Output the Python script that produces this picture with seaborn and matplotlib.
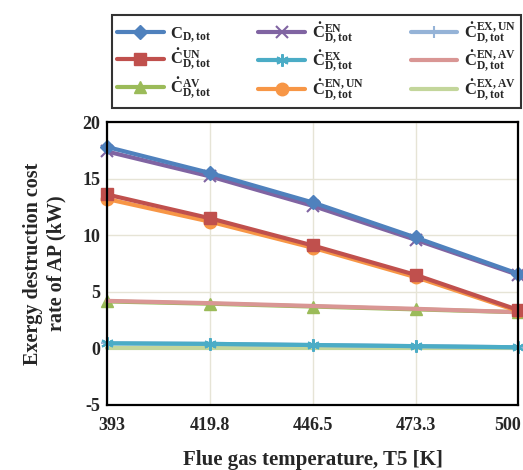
import matplotlib
matplotlib.use("Agg")
import matplotlib.pyplot as plt
import matplotlib.transforms as mtrans
import seaborn as sns
import pandas as pd

sns.set_theme(style="white")
plt.rcParams['font.family'] = ['Liberation Serif', 'DejaVu Serif']
plt.rcParams['mathtext.fontset'] = 'custom'
plt.rcParams['mathtext.rm'] = 'Liberation Serif:bold'
plt.rcParams['mathtext.it'] = 'Liberation Serif:bold'
plt.rcParams['mathtext.bf'] = 'Liberation Serif:bold'
plt.rcParams['axes.unicode_minus'] = False

temps = [393, 419.8, 446.5, 473.3, 500]
tick_labels = ["393", "419.8", "446.5", "473.3", "500"]

c_tot   = [17.8, 15.5, 12.9, 9.8, 6.6]
c_en    = [17.4, 15.2, 12.6, 9.6, 6.5]
c_ex_un = [0.45, 0.40, 0.30, 0.20, 0.10]
c_un    = [13.6, 11.5, 9.1, 6.5, 3.4]
c_ex    = [0.45, 0.40, 0.30, 0.20, 0.10]
c_en_av = [4.2, 4.0, 3.75, 3.5, 3.2]
c_av    = [4.15, 3.95, 3.7, 3.45, 3.2]
c_en_un = [13.2, 11.2, 8.9, 6.3, 3.3]
c_ex_av = [0.05, 0.05, 0.05, 0.05, 0.05]

series = [
    ("tot",   r"$\mathbf{C}_{\mathbf{D,tot}}$", c_tot, "#4F81BD", "D", 7),
    ("en",    r"$\dot{\mathbf{C}}^{\mathbf{EN}}_{\mathbf{D,tot}}$", c_en, "#8064A2", "x", 8),
    ("exun",  r"$\dot{\mathbf{C}}^{\mathbf{EX,UN}}_{\mathbf{D,tot}}$", c_ex_un, "#95B3D7", "+", 9),
    ("un",    r"$\dot{\mathbf{C}}^{\mathbf{UN}}_{\mathbf{D,tot}}$", c_un, "#C0504D", "s", 8),
    ("ex",    r"$\dot{\mathbf{C}}^{\mathbf{EX}}_{\mathbf{D,tot}}$", c_ex, "#4BACC6", (6, 2, 0), 9),
    ("enav",  r"$\dot{\mathbf{C}}^{\mathbf{EN,AV}}_{\mathbf{D,tot}}$", c_en_av, "#D99694", None, 0),
    ("av",    r"$\dot{\mathbf{C}}^{\mathbf{AV}}_{\mathbf{D,tot}}$", c_av, "#9BBB59", "^", 8),
    ("enun",  r"$\dot{\mathbf{C}}^{\mathbf{EN,UN}}_{\mathbf{D,tot}}$", c_en_un, "#F79646", "o", 9),
    ("exav",  r"$\dot{\mathbf{C}}^{\mathbf{EX,AV}}_{\mathbf{D,tot}}$", c_ex_av, "#C3D69B", None, 0),
]

fig = plt.figure(figsize=(5.23, 4.70), dpi=100)
ax = fig.add_axes([0.2046, 0.1383, 0.786, 0.602])

draw_order = ["exav", "exun", "ex", "av", "enav", "enun", "un", "en", "tot"]
handles = {}
for key in draw_order:
    k, lab, vals, col, mk, ms = [s for s in series if s[0] == key][0]
    df = pd.DataFrame({"T": temps, "v": vals})
    kw = dict(marker=mk, markersize=ms, markeredgecolor=col, markerfacecolor=col,
              markeredgewidth=1.5 if mk in ("x", "+", (6, 2, 0)) else 1) if mk is not None else {}
    sns.lineplot(data=df, x="T", y="v", ax=ax, color=col, linewidth=3, label=lab,
                 clip_on=False, **kw)
    handles[key] = ax.get_lines()[-1]

ax.legend().remove()
leg_order = ["tot", "un", "av", "en", "ex", "enun", "exun", "enav", "exav"]
labels_map = {s[0]: s[1] for s in series}
leg = fig.legend([handles[k] for k in leg_order], [labels_map[k] for k in leg_order],
                 ncol=3, loc="upper left", bbox_to_anchor=(0.214, 0.772, 0.782, 0.196),
                 mode="expand", fontsize=12, frameon=True, fancybox=False,
                 handlelength=2.8, borderaxespad=0, labelspacing=0.18, columnspacing=1.0,
                 borderpad=0.3, handletextpad=0.4)
leg.get_frame().set_edgecolor("black")
leg.get_frame().set_linewidth(1.5)

ax.set_xlim(393, 500)
ax.set_ylim(-5, 20)
ax.set_xticks(temps)
ax.set_xticklabels(tick_labels)
ax.set_yticks([-5, 0, 5, 10, 15, 20])
ax.grid(True, color="#E6E4D6", linewidth=1)
ax.set_axisbelow(True)
for sp in ax.spines.values():
    sp.set_visible(True)
    sp.set_color("black")
    sp.set_linewidth(1.6)
ax.tick_params(axis="x", length=0, labelsize=13, pad=9)
ax.tick_params(axis="y", length=0, labelsize=13, pad=5)
for t in ax.get_xticklabels() + ax.get_yticklabels():
    t.set_fontweight("bold")
xl = ax.get_xticklabels()
xl[0].set_transform(xl[0].get_transform() + mtrans.ScaledTranslation(5 / 100, 0, fig.dpi_scale_trans))
xl[-1].set_transform(xl[-1].get_transform() + mtrans.ScaledTranslation(-11 / 100, 0, fig.dpi_scale_trans))
ax.set_xlabel("Flue gas temperature, T5 [K]", fontsize=15, fontweight="bold", labelpad=11)
ax.set_ylabel("Exergy destruction cost\nrate of AP (kW)", fontsize=14.5, fontweight="bold",
              labelpad=11, linespacing=1.25)

fig.savefig("out.png", dpi=100)
